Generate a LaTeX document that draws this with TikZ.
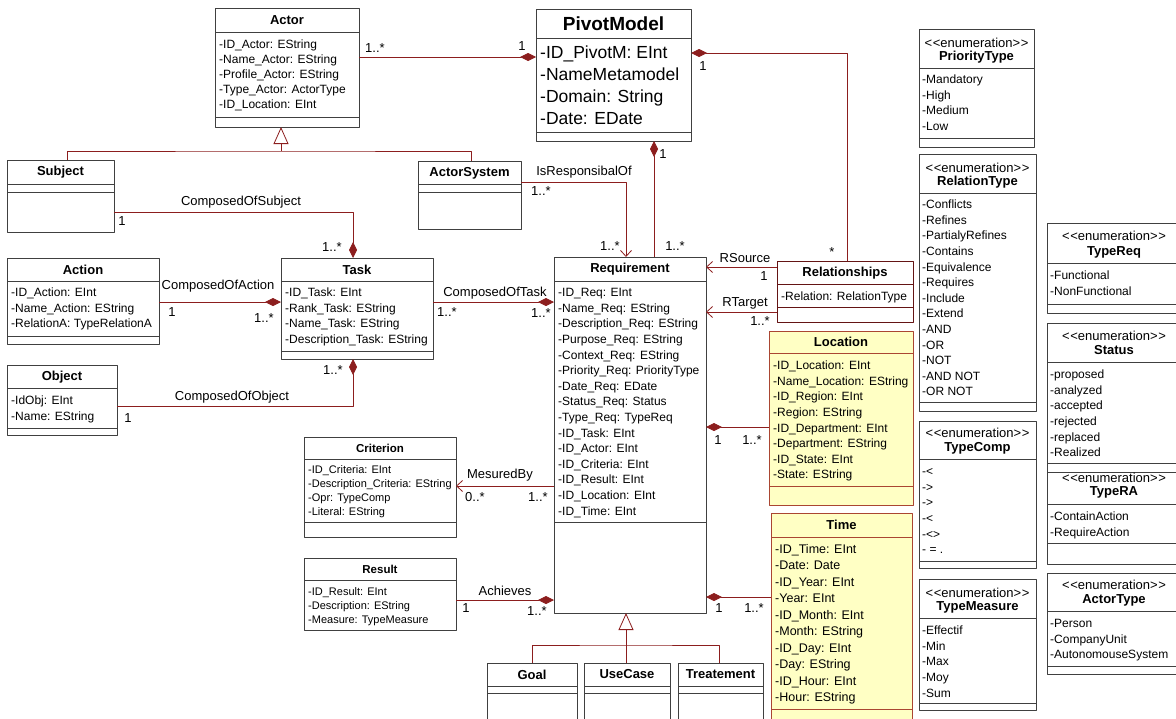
\documentclass[tikz,border=0pt]{standalone}
\usepackage{fontspec}
\setmainfont{Liberation Sans}
\usetikzlibrary{arrows.meta,positioning}

\definecolor{boxgray}{RGB}{64,64,64}
\definecolor{linkred}{RGB}{140,30,30}
\definecolor{reledge}{RGB}{100,20,20}
\definecolor{locfill}{RGB}{255,255,196}
\definecolor{locedge}{RGB}{170,70,50}

\newcommand{\enumtag}{<\kern0.6pt<enumeration>\kern0.6pt>}

\begin{document}
\begin{tikzpicture}[
    x=1pt, y=1pt,
    line join=round,
    umlbox/.style={draw=boxgray, fill=white, line width=0.8pt,
        anchor=north west, inner sep=0pt, outer sep=0pt},
    yellowbox/.style={umlbox, draw=locedge, fill=locfill},
    sepline/.style={draw=boxgray, line width=0.8pt},
    cname/.style={font=\fontsize{13}{15}\bfseries, inner sep=0pt},
    attr/.style={anchor=north west, inner sep=0pt, align=left,
        font=\fontsize{12}{15.6}\selectfont},
    stereo/.style={font=\fontsize{13}{15}\selectfont, inner sep=0pt},
    link/.style={draw=linkred, line width=0.8pt},
    comp/.style={link, -{Diamond[length=16pt,width=8pt]}},
    navi/.style={link, -{Straight Barb[length=6pt,width=11pt]}},
    gen/.style={link, -{Triangle[length=17pt,width=15pt,fill=white]}},
    lbl/.style={font=\fontsize{13}{15}\selectfont, inner sep=0pt}
]

\useasboundingbox (0,0) rectangle (1176,-718);
\clip (0,0) rectangle (1176,-718);

% Actor
\node[umlbox, minimum width=144, minimum height=119] (actor) at (215,-8) {};
\draw[sepline]
    ([yshift=-24]actor.north west) -- ([yshift=-24]actor.north east)
    ([yshift=-109]actor.north west) -- ([yshift=-109]actor.north east);
\node[cname] (actor-t) at ([yshift=-12]actor.north) {Actor};
\node[attr, font=\fontsize{12}{15}\selectfont] (actor-a) at (219,-37.8)
    {\strut-ID\_Actor: EString\\-Name\_Actor: EString\\-Profile\_Actor: EString\\
     -Type\_Actor: ActorType\\-ID\_Location: EInt};

% PivotModel
\node[umlbox, minimum width=155, minimum height=132] (pivot) at (536,-9) {};
\draw[sepline]
    ([yshift=-29]pivot.north west) -- ([yshift=-29]pivot.north east)
    ([yshift=-123]pivot.north west) -- ([yshift=-123]pivot.north east);
\node[cname, font=\fontsize{19}{22}\bfseries] (pivot-t) at ([yshift=-14.5]pivot.north) {PivotModel};
\node[attr, font=\fontsize{17.5}{22}\selectfont] (pivot-a) at (540,-42.9)
    {\strut-ID\_PivotM: EInt\\-NameMetamodel\\-Domain: String\\-Date: EDate};

% Subject
\node[umlbox, minimum width=107, minimum height=72] (subject) at (7,-160) {};
\draw[sepline]
    ([yshift=-24]subject.north west) -- ([yshift=-24]subject.north east)
    ([yshift=-32]subject.north west) -- ([yshift=-32]subject.north east);
\node[cname] (subject-t) at ([yshift=-12]subject.north) {Subject};

% ActorSystem
\node[umlbox, minimum width=103, minimum height=68] (actsys) at (418,-161) {};
\draw[sepline]
    ([yshift=-23]actsys.north west) -- ([yshift=-23]actsys.north east)
    ([yshift=-31]actsys.north west) -- ([yshift=-31]actsys.north east);
\node[cname] (actsys-t) at ([yshift=-12]actsys.north) {ActorSystem};

% Task
\node[umlbox, minimum width=152, minimum height=101] (task) at (281,-258) {};
\draw[sepline]
    ([yshift=-23]task.north west) -- ([yshift=-23]task.north east)
    ([yshift=-93]task.north west) -- ([yshift=-93]task.north east);
\node[cname] (task-t) at ([yshift=-12]task.north) {Task};
\node[attr] (task-a) at (285,-285.5)
    {\strut-ID\_Task: EInt\\-Rank\_Task: EString\\-Name\_Task: EString\\
     -Description\_Task: EString};

% Action
\node[umlbox, minimum width=152, minimum height=86] (action) at (7,-258) {};
\draw[sepline]
    ([yshift=-23]action.north west) -- ([yshift=-23]action.north east)
    ([yshift=-78]action.north west) -- ([yshift=-78]action.north east);
\node[cname] (action-t) at ([yshift=-12]action.north) {Action};
\node[attr] (action-a) at (11,-285.5)
    {\strut-ID\_Action: EInt\\-Name\_Action: EString\\-RelationA: TypeRelationA};

% Object
\node[umlbox, minimum width=110, minimum height=70] (object) at (7,-365) {};
\draw[sepline]
    ([yshift=-23]object.north west) -- ([yshift=-23]object.north east)
    ([yshift=-63]object.north west) -- ([yshift=-63]object.north east);
\node[cname] (object-t) at ([yshift=-12]object.north) {Object};
\node[attr] (object-a) at (11,-393.5)
    {\strut-IdObj: EInt\\-Name: EString};

% Requirement
\node[umlbox, minimum width=152, minimum height=356] (req) at (554,-257) {};
\draw[sepline]
    ([yshift=-24]req.north west) -- ([yshift=-24]req.north east)
    ([yshift=-265]req.north west) -- ([yshift=-265]req.north east);
\node[cname] (req-t) at ([yshift=-12]req.north) {Requirement};
\node[attr] (req-a) at (558,-285.5)
    {\strut-ID\_Req: EInt\\-Name\_Req: EString\\-Description\_Req: EString\\
     -Purpose\_Req: EString\\-Context\_Req: EString\\-Priority\_Req: PriorityType\\
     -Date\_Req: EDate\\-Status\_Req: Status\\-Type\_Req: TypeReq\\-ID\_Task: EInt\\
     -ID\_Actor: EInt\\-ID\_Criteria: EInt\\-ID\_Result: EInt\\-ID\_Location: EInt\\
     -ID\_Time: EInt};

% Relationships
\node[umlbox, draw=reledge, minimum width=136, minimum height=61] (rel) at (777,-261) {};
\draw[sepline, draw=reledge]
    ([yshift=-23]rel.north west) -- ([yshift=-23]rel.north east)
    ([yshift=-46]rel.north west) -- ([yshift=-46]rel.north east);
\node[cname] (rel-t) at ([yshift=-12]rel.north) {Relationships};
\node[attr] (rel-a) at (781,-289.5) {\strut-Relation: RelationType};

% Location
\node[yellowbox, minimum width=144, minimum height=174] (loc) at (769,-331) {};
\draw[sepline, draw=locedge]
    ([yshift=-22]loc.north west) -- ([yshift=-22]loc.north east)
    ([yshift=-155]loc.north west) -- ([yshift=-155]loc.north east);
\node[cname] (loc-t) at ([yshift=-11]loc.north) {Location};
\node[attr] (loc-a) at (773,-358.5)
    {\strut-ID\_Location: EInt\\-Name\_Location: EString\\-ID\_Region: EInt\\
     -Region: EString\\-ID\_Department: EInt\\-Department: EString\\
     -ID\_State: EInt\\-State: EString};

% Criterion
\node[umlbox, minimum width=152, minimum height=100] (crit) at (304,-437) {};
\draw[sepline]
    ([yshift=-22]crit.north west) -- ([yshift=-22]crit.north east)
    ([yshift=-85]crit.north west) -- ([yshift=-85]crit.north east);
\node[cname, font=\fontsize{11.5}{13}\bfseries] (crit-t) at ([yshift=-11]crit.north) {Criterion};
\node[attr, font=\fontsize{11}{14}\selectfont] (crit-a) at (308,-463.2)
    {\strut-ID\_Criteria: EInt\\-Description\_Criteria: EString\\
     -Opr: TypeComp\\-Literal: EString};

% Result
\node[umlbox, minimum width=152, minimum height=72] (result) at (304,-558) {};
\draw[sepline]
    ([yshift=-22]result.north west) -- ([yshift=-22]result.north east);
\node[cname, font=\fontsize{11.5}{13}\bfseries] (result-t) at ([yshift=-11]result.north) {Result};
\node[attr, font=\fontsize{11}{14}\selectfont] (result-a) at (308,-585.2)
    {\strut-ID\_Result: EInt\\-Description: EString\\-Measure: TypeMeasure};

% Time
\node[yellowbox, minimum width=141, minimum height=215] (time) at (771,-513) {};
\draw[sepline, draw=locedge]
    ([yshift=-24]time.north west) -- ([yshift=-24]time.north east)
    ([yshift=-196]time.north west) -- ([yshift=-196]time.north east);
\node[cname] (time-t) at ([yshift=-12]time.north) {Time};
\node[attr, font=\fontsize{12.5}{16.5}\selectfont] (time-a) at (775,-541.6)
    {\strut-ID\_Time: EInt\\-Date: Date\\-ID\_Year: EInt\\-Year: EInt\\
     -ID\_Month: EInt\\-Month: EString\\-ID\_Day: EInt\\-Day: EString\\
     -ID\_Hour: EInt\\-Hour: EString};

% Goal, UseCase, Treatement
\node[umlbox, minimum width=90, minimum height=70] (goal) at (487,-663) {};
\node[umlbox, minimum width=86, minimum height=70] (usecase) at (584,-663) {};
\node[umlbox, minimum width=85, minimum height=70] (treat) at (678,-663) {};
\draw[sepline]
    ([yshift=-23]goal.north west) -- ([yshift=-23]goal.north east)
    ([yshift=-30]goal.north west) -- ([yshift=-30]goal.north east)
    ([yshift=-23]usecase.north west) -- ([yshift=-23]usecase.north east)
    ([yshift=-30]usecase.north west) -- ([yshift=-30]usecase.north east)
    ([yshift=-23]treat.north west) -- ([yshift=-23]treat.north east)
    ([yshift=-30]treat.north west) -- ([yshift=-30]treat.north east);
\node[cname] (goal-t) at ([yshift=-11.5]goal.north) {Goal};
\node[cname] (usecase-t) at ([yshift=-11.5]usecase.north) {UseCase};
\node[cname] (treat-t) at ([yshift=-11.5]treat.north) {Treatement};

% PriorityType
\node[umlbox, minimum width=115, minimum height=118] (prio) at (919,-29) {};
\draw[sepline]
    ([yshift=-39]prio.north west) -- ([yshift=-39]prio.north east)
    ([yshift=-109]prio.north west) -- ([yshift=-109]prio.north east);
\node[stereo] (prio-s) at ([yshift=-14]prio.north) {\enumtag};
\node[cname] (prio-t) at ([yshift=-28]prio.north) {PriorityType};
\node[attr] (prio-a) at (922,-72.5)
    {\strut-Mandatory\\-High\\-Medium\\-Low};

% RelationType
\node[umlbox, minimum width=117, minimum height=257] (reltype) at (919,-154) {};
\draw[sepline]
    ([yshift=-39]reltype.north west) -- ([yshift=-39]reltype.north east)
    ([yshift=-248]reltype.north west) -- ([yshift=-248]reltype.north east);
\node[stereo] (reltype-s) at ([yshift=-14]reltype.north) {\enumtag};
\node[cname] (reltype-t) at ([yshift=-28]reltype.north) {RelationType};
\node[attr] (reltype-a) at (922,-197.5)
    {\strut-Conflicts\\-Refines\\-PartialyRefines\\-Contains\\-Equivalence\\
     -Requires\\-Include\\-Extend\\-AND\\-OR\\-NOT\\-AND NOT\\-OR NOT};

% TypeReq
\node[umlbox, minimum width=134, minimum height=90] (typereq) at (1047,-223) {};
\draw[sepline]
    ([yshift=-40]typereq.north west) -- ([yshift=-40]typereq.north east)
    ([yshift=-81]typereq.north west) -- ([yshift=-81]typereq.north east);
\node[stereo] (typereq-s) at ([yshift=-13]typereq.north) {\enumtag};
\node[cname] (typereq-t) at ([yshift=-29]typereq.north) {TypeReq};
\node[attr] (typereq-a) at (1050,-268.5)
    {\strut-Functional\\-NonFunctional};

% Status
\node[umlbox, minimum width=134, minimum height=149] (status) at (1047,-323) {};
\draw[sepline]
    ([yshift=-39]status.north west) -- ([yshift=-39]status.north east)
    ([yshift=-140]status.north west) -- ([yshift=-140]status.north east);
\node[stereo] (status-s) at ([yshift=-13]status.north) {\enumtag};
\node[cname] (status-t) at ([yshift=-27]status.north) {Status};
\node[attr] (status-a) at (1050,-367.5)
    {\strut-proposed\\-analyzed\\-accepted\\-rejected\\-replaced\\-Realized};

% TypeRA
\node[umlbox, minimum width=134, minimum height=92] (typera) at (1047,-472) {};
\draw[sepline]
    ([yshift=-32]typera.north west) -- ([yshift=-32]typera.north east)
    ([yshift=-71]typera.north west) -- ([yshift=-71]typera.north east);
\node[stereo] (typera-s) at ([yshift=-6]typera.north) {\enumtag};
\node[cname] (typera-t) at ([yshift=-20]typera.north) {TypeRA};
\node[attr] (typera-a) at (1050,-509.5)
    {\strut-ContainAction\\-RequireAction};

% TypeComp
\node[umlbox, minimum width=117, minimum height=147] (typecomp) at (919,-421) {};
\draw[sepline]
    ([yshift=-38]typecomp.north west) -- ([yshift=-38]typecomp.north east)
    ([yshift=-140]typecomp.north west) -- ([yshift=-140]typecomp.north east);
\node[stereo] (typecomp-s) at ([yshift=-12]typecomp.north) {\enumtag};
\node[cname] (typecomp-t) at ([yshift=-27]typecomp.north) {TypeComp};
\node[attr] (typecomp-a) at (922,-464.5)
    {\strut-<\\->\\->\\-<\\-<>\\- = .};

% TypeMeasure
\node[umlbox, minimum width=117, minimum height=131] (typemeas) at (919,-579) {};
\draw[sepline]
    ([yshift=-39]typemeas.north west) -- ([yshift=-39]typemeas.north east)
    ([yshift=-124]typemeas.north west) -- ([yshift=-124]typemeas.north east);
\node[stereo] (typemeas-s) at ([yshift=-14]typemeas.north) {\enumtag};
\node[cname] (typemeas-t) at ([yshift=-28]typemeas.north) {TypeMeasure};
\node[attr] (typemeas-a) at (922,-623.5)
    {\strut-Effectif\\-Min\\-Max\\-Moy\\-Sum};

% ActorType
\node[umlbox, minimum width=134, minimum height=101] (acttype) at (1047,-573) {};
\draw[sepline]
    ([yshift=-38]acttype.north west) -- ([yshift=-38]acttype.north east)
    ([yshift=-93]acttype.north west) -- ([yshift=-93]acttype.north east);
\node[stereo] (acttype-s) at ([yshift=-12]acttype.north) {\enumtag};
\node[cname] (acttype-t) at ([yshift=-27]acttype.north) {ActorType};
\node[attr] (acttype-a) at (1050,-616.5)
    {\strut-Person\\-CompanyUnit\\-AutonomouseSystem};

% Actor -- PivotModel
\draw[comp] ([yshift=-49]actor.north east) -- ([yshift=-48]pivot.north west);
\node[lbl] (m1) at (375,-48) {1..*};
\node[lbl] (m2) at (522,-46) {1};

% PivotModel -- Relationships
\draw[comp] ([xshift=70]rel.north west) |- ([yshift=-44]pivot.north east);
\node[lbl] (m3) at (703,-66) {1};
\node[lbl] (m4) at (832,-252) {*};

% PivotModel -- Requirement
\draw[comp] ([xshift=100]req.north west) -- ([xshift=118]pivot.south west);
\node[lbl] (m5) at (663,-154) {1};
\node[lbl] (m6) at (675,-246) {1..*};

% generalisation Actor
\coordinate (genA) at ([xshift=66,yshift=-24]actor.south west);
\draw[link] ([xshift=60]subject.north west) |- (genA) -| ([xshift=53]actsys.north west);
\draw[gen] (genA) -- ([xshift=66]actor.south west);

% ComposedOfSubject
\draw[comp] ([yshift=-52]subject.north east) -| ([xshift=72]task.north west);
\node[lbl] (n1) at (241,-202) {ComposedOfSubject};
\node[lbl] (m7) at (122,-221) {1};
\node[lbl] (m8) at (332,-247) {1..*};

% IsResponsibalOf
\draw[navi] ([yshift=-21]actsys.north east) -| ([xshift=72]req.north west);
\node[lbl] (n2) at (584,-172) {IsResponsibalOf};
\node[lbl] (m9) at (541,-191) {1..*};
\node[lbl] (m10) at (610,-246) {1..*};

% ComposedOfAction
\draw[comp] ([yshift=-44]action.north east) -- ([yshift=-44]task.north west);
\node[lbl] (n3) at (218,-286) {ComposedOfAction};
\node[lbl] (m11) at (172,-312) {1};
\node[lbl] (m12) at (264,-318) {1..*};

% ComposedOfObject
\draw[comp] ([yshift=-41]object.north east) -| ([xshift=72]task.south west);
\node[lbl] (n4) at (232,-397) {ComposedOfObject};
\node[lbl] (m13) at (128,-418) {1};
\node[lbl] (m14) at (333,-370) {1..*};

% ComposedOfTask
\draw[comp] ([yshift=-44]task.north east) -- ([yshift=-45]req.north west);
\node[lbl] (n5) at (495,-293) {ComposedOfTask};
\node[lbl] (m15) at (447,-312) {1..*};
\node[lbl] (m16) at (541,-313) {1..*};

% RSource, RTarget
\draw[navi] ([yshift=-6]rel.north west) -- ([yshift=-10]req.north east);
\node[lbl] (n6) at (745,-258) {RSource};
\node[lbl] (m17) at (764,-276) {1};
\draw[navi] ([yshift=-51]rel.north west) -- ([yshift=-55]req.north east);
\node[lbl] (n7) at (745,-303) {RTarget};
\node[lbl] (m18) at (760,-321) {1..*};

% Requirement -- Location
\draw[comp] ([yshift=-96]loc.north west) -- ([yshift=-170]req.north east);
\node[lbl] (m19) at (718,-440) {1};
\node[lbl] (m20) at (752,-440) {1..*};

% MesuredBy
\draw[navi] ([yshift=-229]req.north west) -- ([yshift=-49]crit.north east);
\node[lbl] (n8) at (500,-475) {MesuredBy};
\node[lbl] (m21) at (475,-497) {0..*};
\node[lbl] (m22) at (538,-497) {1..*};

% Achieves
\draw[comp] ([yshift=-42]result.north east) -- ([yshift=-343]req.north west);
\node[lbl] (n9) at (505,-591) {Achieves};
\node[lbl] (m23) at (466,-608) {1};
\node[lbl] (m24) at (537,-611) {1..*};

% Requirement -- Time
\draw[comp] ([yshift=-84]time.north west) -- ([yshift=-340]req.north east);
\node[lbl] (m25) at (719,-608) {1};
\node[lbl] (m26) at (754,-608) {1..*};

% generalisation Requirement
\coordinate (genR) at ([xshift=72,yshift=-32]req.south west);
\draw[link] ([xshift=45]goal.north west) |- (genR) -| ([xshift=41]treat.north west);
\draw[link] (genR) -- ([xshift=42]usecase.north west);
\draw[gen] (genR) -- ([xshift=72]req.south west);

\end{tikzpicture}
\end{document}
